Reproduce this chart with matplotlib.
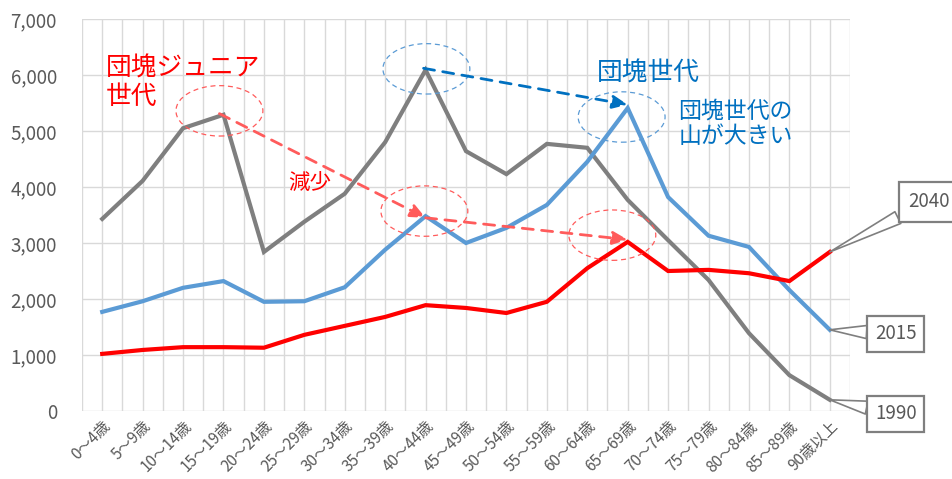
import matplotlib
matplotlib.use("Agg")
import matplotlib.pyplot as plt
from matplotlib.patches import Ellipse
from matplotlib.ticker import FuncFormatter, MultipleLocator

plt.rcParams['font.family'] = ['Noto Sans CJK JP', 'DejaVu Sans']

# age groups
ages = ["0～4歳", "5～9歳", "10～14歳", "15～19歳", "20～24歳", "25～29歳",
        "30～34歳", "35～39歳", "40～44歳", "45～49歳", "50～54歳", "55～59歳",
        "60～64歳", "65～69歳", "70～74歳", "75～79歳", "80～84歳", "85～89歳",
        "90歳以上"]

pop_1990 = [3430, 4110, 5050, 5290, 2840, 3380, 3880, 4800, 6090, 4640,
            4230, 4770, 4700, 3770, 3050, 2340, 1390, 640, 200]
pop_2015 = [1770, 1960, 2200, 2320, 1950, 1960, 2210, 2880, 3480, 3000,
            3270, 3680, 4450, 5410, 3820, 3130, 2930, 2160, 1450]
pop_2040 = [1020, 1090, 1140, 1140, 1130, 1360, 1520, 1680, 1890, 1840,
            1750, 1950, 2550, 3020, 2500, 2520, 2460, 2320, 2840]

GRAY = "#7F7F7F"
BLUE = "#5B9BD5"
RED = "#FF0000"
DBLUE = "#0070C0"
LRED = "#FF5B5B"

fig = plt.figure(figsize=(9.53, 4.79), dpi=100)
ax = fig.add_axes([82/953, 1-411/479, (850-82)/953, (411-19)/479])

x = list(range(len(ages)))
ax.plot(x, pop_1990, color=GRAY, lw=3, solid_joinstyle='miter', zorder=3)
ax.plot(x, pop_2015, color=BLUE, lw=3, solid_joinstyle='miter', zorder=4)
ax.plot(x, pop_2040, color=RED, lw=3, solid_joinstyle='miter', zorder=5)

ax.set_xlim(-0.5, len(ages) - 0.5)
ax.set_ylim(0, 7000)
ax.yaxis.set_major_locator(MultipleLocator(1000))
ax.yaxis.set_major_formatter(FuncFormatter(lambda v, p: f"{int(v):,}"))
ax.set_xticks(x)
ax.set_xticklabels(ages, rotation=45, ha='right', rotation_mode='anchor',
                   fontsize=11, color="#595959")
ax.set_xticks([i + 0.5 for i in range(-1, len(ages))], minor=True)
ax.tick_params(axis='y', length=0, labelsize=13.5, labelcolor="#595959", pad=18)
ax.tick_params(axis='x', which='both', length=0, pad=5)
ax.grid(True, which='major', color="#D9D9D9", lw=1)
ax.grid(True, which='minor', axis='x', color="#D9D9D9", lw=1)
for s in ax.spines.values():
    s.set_visible(False)
ax.set_axisbelow(True)

# dashed ellipses around the peaks
def ring(cx, cy, color):
    e = Ellipse((cx, cy), 2.15, 900, fill=False, ls=(0, (4, 3)), lw=0.9,
                ec=color, zorder=6, clip_on=False)
    ax.add_patch(e)

ring(3 - 0.1, pop_1990[3] + 70, LRED)
ring(8 - 0.03, pop_2015[8] + 90, LRED)
ring(13 - 0.38, pop_2040[13] + 120, LRED)
ring(8 + 0.02, pop_1990[8] + 20, BLUE)
ring(13 - 0.15, pop_2015[13] - 160, BLUE)

def dash_arrow(x0, y0, x1, y1, color):
    ax.annotate("", xy=(x1, y1), xytext=(x0, y0),
                arrowprops=dict(arrowstyle="-|>,head_length=0.9,head_width=0.4",
                                color=color, lw=2, ls=(0, (4, 3)),
                                shrinkA=0, shrinkB=0), zorder=7)

dash_arrow(3 - 0.1, pop_1990[3] + 20, 8, pop_2015[8] - 30, LRED)
dash_arrow(8, pop_2015[8] - 30, 13, pop_2040[13] + 40, LRED)
dash_arrow(8 - 0.05, pop_1990[8] + 30, 13, pop_2015[13] + 60, DBLUE)

# text labels
ax.text(0.08, 5380, "団塊ジュニア\n世代", color=RED, fontsize=18.5, linespacing=1.1,
        va='bottom', ha='left')
ax.text(4.6, 3860, "減少", color=RED, fontsize=15.5, va='bottom', ha='left')
ax.text(12.25, 5800, "団塊世代", color=DBLUE, fontsize=18.5, va='bottom', ha='left')
ax.text(14.25, 4700, "団塊世代の\n山が大きい", color=DBLUE, fontsize=16.5,
        linespacing=1.1, va='bottom', ha='left')

# callout boxes
def callout(yv, dx, dy, label, pad=0.4):
    ax.annotate(label, xy=(x[-1], yv), xytext=(dx, dy), textcoords='offset pixels',
                fontsize=13.5, color="#595959", ha='center', va='center',
                bbox=dict(boxstyle=f"square,pad={pad}", fc="white", ec=GRAY, lw=1.6),
                arrowprops=dict(arrowstyle="wedge,tail_width=0.7", fc="white",
                                ec=GRAY, lw=1.2, shrinkA=0, shrinkB=0),
                annotation_clip=False, zorder=8)

callout(pop_2040[-1], 99, 50, "2040", pad=0.5)
callout(pop_2015[-1], 66, -4, "2015")
callout(pop_1990[-1], 66, -14, "1990")

fig.savefig("out.png", dpi=100)
